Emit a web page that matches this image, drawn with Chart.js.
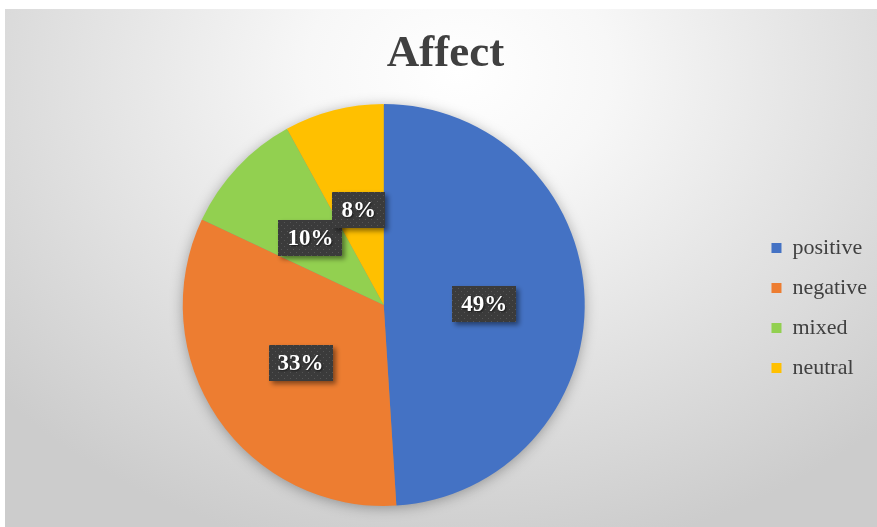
<!DOCTYPE html>
<html>
<head>
<meta charset="utf-8">
<script src="https://cdn.jsdelivr.net/npm/chart.js@4/dist/chart.umd.min.js"></script>
<style>
  html, body { margin: 0; padding: 0; background: #fff; }
  #wrap {
    position: absolute; left: 5px; top: 9px; width: 872px; height: 518px;
    background: radial-gradient(ellipse 70% 95% at 52% 12%, #ffffff 0%, #f7f7f7 25%, #e3e3e3 60%, #cccccc 100%);
  }
  canvas { display: block; }
</style>
</head>
<body>
<div id="wrap"><canvas id="pieChart" width="872" height="518"></canvas></div>
<script>
const categories = ['positive', 'negative', 'mixed', 'neutral'];
const shares = [49, 33, 10, 8];
const sliceColors = ['#4472C4', '#ED7D31', '#92D050', '#FFC000'];

const serif = "'Liberation Serif', 'Times New Roman', serif";

// small dotted tile used behind the value labels
function dotPattern(ctx) {
  const tile = document.createElement('canvas');
  tile.width = 6; tile.height = 6;
  const t = tile.getContext('2d');
  t.fillStyle = '#3b3b3b';
  t.fillRect(0, 0, 6, 6);
  t.fillStyle = '#555555';
  t.fillRect(0, 0, 1, 1);
  t.fillRect(3, 3, 1, 1);
  return ctx.createPattern(tile, 'repeat');
}

// soft shadow under the whole pie
const pieShadow = {
  id: 'pieShadow',
  beforeDatasetsDraw(chart) {
    const arc = chart.getDatasetMeta(0).data[0];
    if (!arc) return;
    const { x, y, outerRadius } = arc.getProps(['x', 'y', 'outerRadius'], true);
    const ctx = chart.ctx;
    ctx.save();
    ctx.shadowColor = 'rgba(0,0,0,0.35)';
    ctx.shadowBlur = 14;
    ctx.shadowOffsetY = 2;
    ctx.fillStyle = '#888';
    ctx.beginPath();
    ctx.arc(x, y, outerRadius - 1, 0, Math.PI * 2);
    ctx.fill();
    ctx.restore();
  }
};

// percentage boxes halfway out along each slice
const valueBoxes = {
  id: 'valueBoxes',
  afterDatasetsDraw(chart) {
    const ctx = chart.ctx;
    const meta = chart.getDatasetMeta(0);
    const fill = dotPattern(ctx);
    ctx.save();
    ctx.font = 'bold 23px ' + serif;
    ctx.textAlign = 'center';
    ctx.textBaseline = 'middle';
    meta.data.forEach((arc, i) => {
      const p = arc.getProps(['x', 'y', 'startAngle', 'endAngle', 'outerRadius'], true);
      const mid = (p.startAngle + p.endAngle) / 2;
      const cx = p.x + Math.cos(mid) * p.outerRadius * 0.5;
      const cy = p.y + Math.sin(mid) * p.outerRadius * 0.5 + 2;
      const text = shares[i] + '%';
      const w = ctx.measureText(text).width + 18;
      const h = 36;
      ctx.save();
      ctx.shadowColor = 'rgba(0,0,0,0.45)';
      ctx.shadowBlur = 5;
      ctx.shadowOffsetX = 3;
      ctx.shadowOffsetY = 3;
      ctx.fillStyle = fill;
      ctx.fillRect(Math.round(cx - w / 2), Math.round(cy - h / 2), Math.round(w), h);
      ctx.restore();
      ctx.save();
      ctx.shadowColor = 'rgba(0,0,0,0.6)';
      ctx.shadowBlur = 2;
      ctx.shadowOffsetX = 1;
      ctx.shadowOffsetY = 1;
      ctx.fillStyle = '#ffffff';
      ctx.fillText(text, cx, cy + 1);
      ctx.restore();
    });
    ctx.restore();
  }
};

new Chart(document.getElementById('pieChart'), {
  type: 'pie',
  data: {
    labels: categories,
    datasets: [{
      data: shares,
      backgroundColor: sliceColors,
      borderWidth: 0
    }]
  },
  plugins: [pieShadow, valueBoxes],
  options: {
    responsive: false,
    animation: false,
    layout: { padding: { left: 9, right: 0, top: 0, bottom: 21 } },
    plugins: {
      title: {
        display: true,
        text: 'Affect',
        color: '#404040',
        font: { family: serif, size: 45, weight: 'bold' },
        padding: { top: 18, bottom: 23 }
      },
      legend: {
        position: 'right',
        fullSize: false,
        // empty title just nudges the entries down a little
        title: { display: true, text: ' ', font: { size: 5 }, padding: 0 },
        labels: {
          color: '#404040',
          font: { family: serif, size: 22 },
          boxWidth: 10,
          boxHeight: 10,
          padding: 18
        }
      },
      tooltip: { enabled: false }
    }
  }
});
</script>
</body>
</html>
